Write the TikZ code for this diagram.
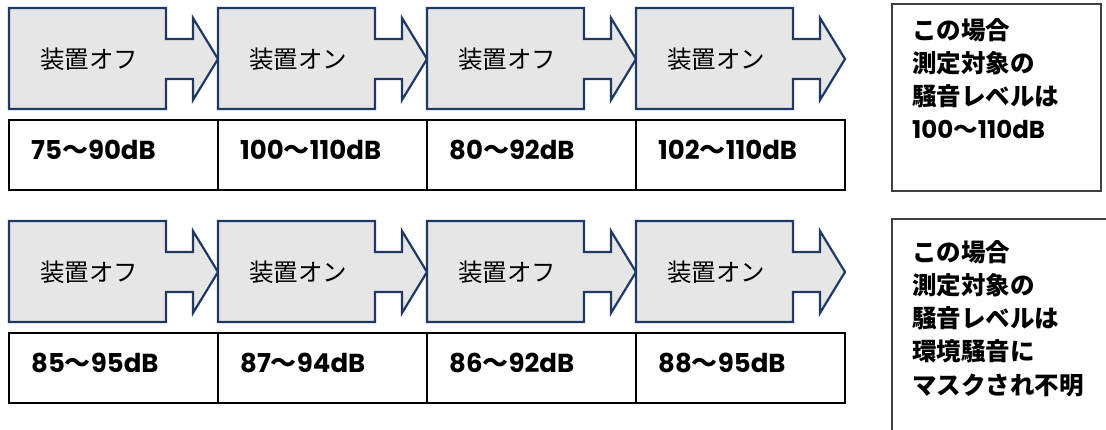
\documentclass[tikz,border=0pt]{standalone}
\usepackage{fontspec}
\setmainfont{Noto Sans CJK JP}
\newfontfamily\latinb{Poppins}
\definecolor{navy}{HTML}{1F3864}
\definecolor{boxgray}{HTML}{E6E6E6}
\definecolor{frame}{HTML}{404040}
\usetikzlibrary{calc}
\tikzset{
  arrowshape/.style={draw=navy, fill=boxgray, line width=2.2pt, miter limit=10},
  arrowlabel/.style={anchor=west, inner sep=0pt, font=\fontsize{24.5}{26}\selectfont},
  valbox/.style={draw=black, line width=1.1pt},
  vallabel/.style={anchor=west, inner sep=0pt, font=\fontsize{26}{28}\selectfont\latinb\bfseries},
  notebox/.style={draw=frame, line width=1.3pt},
  notelabel/.style={anchor=west, inner sep=0pt, font=\fontsize{24.5}{26}\selectfont\bfseries},
}
\newcommand{\stagearrow}[4]{%
  \draw[arrowshape] (#1,#2) -- ++(157,0) -- ++(0,31) -- ++(27,0) -- ++(0,-21)
    -- ++(25,41) -- ++(-25,41) -- ++(0,-21) -- ++(-27,0) -- ++(0,30) -- ++(-157,0) -- cycle;
  \node[arrowlabel] (#3) at ($(#1,#2)+(31,51)$) {#4};
}
\newcommand{\stagevalue}[4]{%
  \draw[valbox] (#1,#2+112) rectangle ++(209,70);
  \node[vallabel] (#3) at ($(#1,#2)+(22,142)$) {#4};
}
\newcommand{\wave}{{\rmfamily\bfseries 〜}}
\begin{document}
\begin{tikzpicture}[x=1pt,y=-1pt]
\useasboundingbox (0,0) rectangle (1106,430);
% top row
\stagearrow{9}{8}{a1}{装置オフ}
\stagearrow{218}{8}{a2}{装置オン}
\stagearrow{427}{8}{a3}{装置オフ}
\stagearrow{636}{8}{a4}{装置オン}
\stagevalue{9}{8}{v1}{75\wave 90dB}
\stagevalue{218}{8}{v2}{100\wave 110dB}
\stagevalue{427}{8}{v3}{80\wave 92dB}
\stagevalue{636}{8}{v4}{102\wave 110dB}
% bottom row
\stagearrow{9}{221}{b1}{装置オフ}
\stagearrow{218}{221}{b2}{装置オン}
\stagearrow{427}{221}{b3}{装置オフ}
\stagearrow{636}{221}{b4}{装置オン}
\stagevalue{9}{221}{w1}{85\wave 95dB}
\stagevalue{218}{221}{w2}{87\wave 94dB}
\stagevalue{427}{221}{w3}{86\wave 92dB}
\stagevalue{636}{221}{w4}{88\wave 95dB}
% note boxes
\draw[notebox] (892,4) rectangle (1101,191);
\node[notelabel] (n1) at (912,30) {この場合};
\node[notelabel] (n2) at (912,63) {測定対象の};
\node[notelabel] (n3) at (912,96) {騒音レベルは};
\node[notelabel] (n4) at (912,129) {{\latinb 100}〜{\latinb 110dB}};
\draw[notebox] (1110,219) -- (892,219) -- (892,434);
\node[notelabel] (m1) at (912,252) {この場合};
\node[notelabel] (m2) at (912,285) {測定対象の};
\node[notelabel] (m3) at (912,318) {騒音レベルは};
\node[notelabel] (m4) at (912,351) {環境騒音に};
\node[notelabel] (m5) at (912,385) {マスクされ不明};
\end{tikzpicture}
\end{document}
